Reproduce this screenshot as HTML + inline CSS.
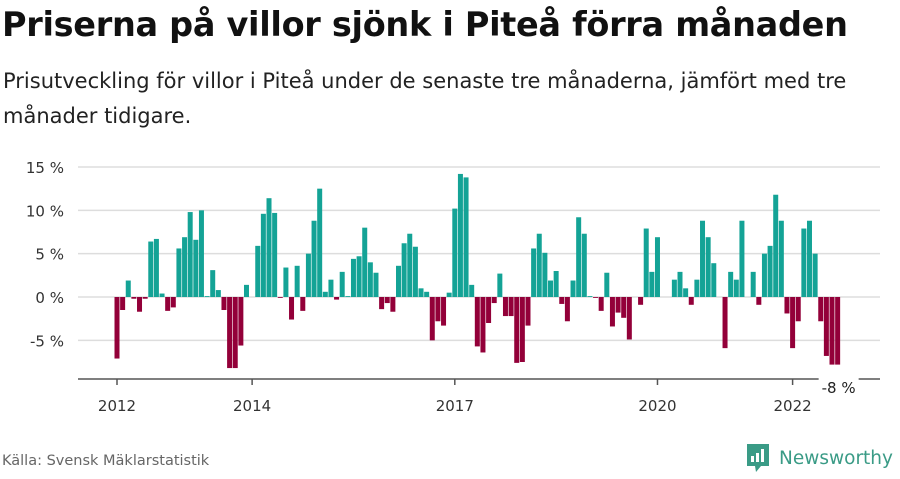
<!DOCTYPE html>
<html><head><meta charset="utf-8"><style>
body{margin:0;background:#fff;width:900px;height:474px;overflow:hidden;font-family:"DejaVu Sans","Liberation Sans",sans-serif;}
.t{position:absolute;left:2px;top:5px;font-size:33.5px;font-weight:bold;color:#111;margin:0;letter-spacing:-0.3px;white-space:nowrap}
.s{position:absolute;left:3px;top:64px;font-size:21px;line-height:35px;color:#222;width:880px}
.f{position:absolute;left:2px;top:453px;font-size:14.5px;color:#666}
</style></head><body>
<h1 class="t">Priserna på villor sjönk i Piteå förra månaden</h1>
<div class="s">Prisutveckling för villor i Piteå under de senaste tre månaderna, jämfört med tre månader tidigare.</div>
<svg id="c" width="900" height="474" style="position:absolute;left:0;top:0"></svg>
<div class="f">Källa: Svensk Mäklarstatistik</div>
<div style="position:absolute;left:745px;top:441px;">
<svg width="155" height="34"><path d="M2 3h22v22h-8l-5 6-1-6H2z" fill="#3a9b86"/><rect x="6" y="15" width="3" height="6" fill="#fff"/><rect x="11" y="12" width="3" height="9" fill="#fff"/><rect x="16" y="8" width="3" height="13" fill="#fff"/>
<text x="34" y="23" font-size="18.5" fill="#3a9b86" font-family="DejaVu Sans, sans-serif">Newsworthy</text></svg></div>
<script>
const values=[-7.1,-1.5,1.9,-0.2,-1.7,-0.2,6.4,6.7,0.4,-1.6,-1.2,5.6,6.9,9.8,6.6,10,0.1,3.1,0.8,-1.5,-8.2,-8.2,-5.6,1.4,0,5.9,9.6,11.4,9.7,-0.1,3.4,-2.6,3.6,-1.6,5.0,8.8,12.5,0.6,2.0,-0.3,2.9,0.1,4.4,4.7,8.0,4.0,2.8,-1.4,-0.7,-1.7,3.6,6.2,7.3,5.8,1.0,0.6,-5.0,-2.8,-3.3,0.5,10.2,14.2,13.8,1.4,-5.7,-6.4,-3.0,-0.7,2.7,-2.2,-2.2,-7.6,-7.5,-3.3,5.6,7.3,5.1,1.9,3.0,-0.8,-2.8,1.9,9.2,7.3,0.1,-0.1,-1.6,2.8,-3.4,-1.8,-2.4,-4.9,0,-0.9,7.9,2.9,6.9,0,0,2.0,2.9,1.0,-0.9,2.0,8.8,6.9,3.9,0,-5.9,2.9,2.0,8.8,0,2.9,-0.9,5.0,5.9,11.8,8.8,-1.9,-5.9,-2.8,7.9,8.8,5.0,-2.8,-6.8,-7.8,-7.8];
const startYear=2012;
const yTicks=[15,10,5,0,-5];
const xTickYears=[2012,2014,2017,2020,2022];
const lastLabel="-8 %";
const NS="http://www.w3.org/2000/svg",svg=document.getElementById('c');
const y=v=>297-v*8.667;
const x=i=>117+i*5.63;
function mk(t,a){const e=document.createElementNS(NS,t);for(const k in a)e.setAttribute(k,a[k]);svg.appendChild(e);return e;}
yTicks.forEach(v=>{
const g=mk('line',{x1:78,x2:880,y1:y(v),y2:y(v),stroke:'#ddd','stroke-width':1.5});


const t=mk('text',{x:64,y:y(v)+6,'text-anchor':'end','font-size':15,fill:'#333','font-family':'DejaVu Sans, sans-serif'});
t.textContent=v+' %';


});
values.forEach((v,i)=>{
const r=mk('rect',{x:x(i)-2.5,width:5,y:Math.min(y(v),y(0)),height:Math.abs(y(v)-y(0)),fill:v>=0?'#14a396':'#930039'});


});
const ax=mk('line',{x1:78,x2:880,y1:379,y2:379,stroke:'#555','stroke-width':1.5});


xTickYears.forEach(yr=>{
const px=x((yr-startYear)*12);
const tk=mk('line',{x1:px,x2:px,y1:379,y2:385,stroke:'#555','stroke-width':1.5});


const t=mk('text',{x:px,y:411,'text-anchor':'middle','font-size':15,fill:'#333','font-family':'DejaVu Sans, sans-serif'});
t.textContent=yr;


});
const li=values.length-1;
const bg=mk('rect',{x:x(li)-19,y:378,width:40,height:20,fill:'#fff'});


const vl=mk('text',{x:x(li)+1,y:393,'text-anchor':'middle','font-size':15,fill:'#222','font-family':'DejaVu Sans, sans-serif'});
vl.textContent=lastLabel;


</script>
</body></html>
